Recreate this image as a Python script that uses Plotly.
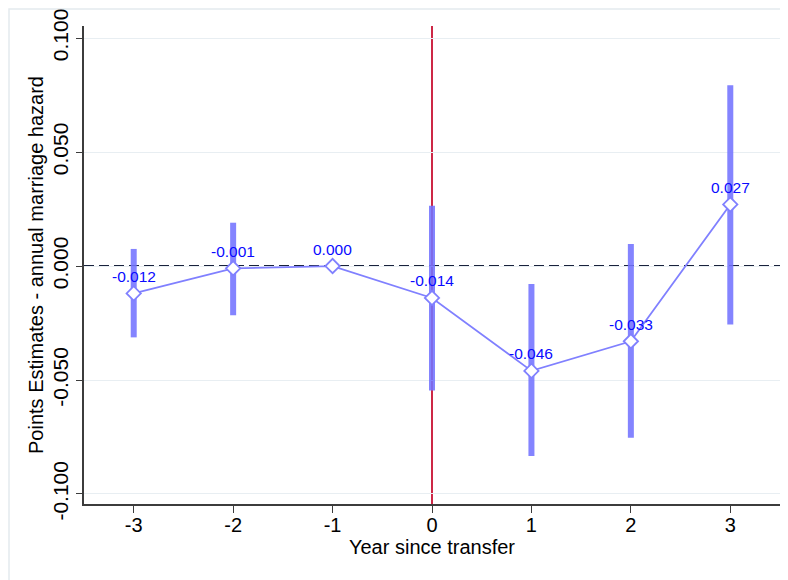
import plotly.graph_objects as go

years = [-3, -2, -1, 0, 1, 2, 3]
estimates = [-0.012, -0.001, 0.000, -0.014, -0.046, -0.033, 0.027]
ci_low = [-0.0313, -0.0216, None, -0.0546, -0.0833, -0.0753, -0.0256]
ci_high = [0.0075, 0.0190, None, 0.0264, -0.0079, 0.0097, 0.0793]
labels = ["-0.012", "-0.001", "0.000", "-0.014", "-0.046", "-0.033", "0.027"]
y_ticks = [-0.1, -0.05, 0.0, 0.05, 0.1]
y_ticktext = ["-0.100", "-0.050", "0.000", "0.050", "0.100"]

BLUE = "rgba(115,115,255,0.88)"
FONT = "Liberation Sans, Arial, sans-serif"

# page body has an 8px margin, so compensate in the figure margins
L, R, T, B = 76, 16, 18, 84
PW, PH = 788 - L - R, 580 - T - B

fig = go.Figure()

# confidence interval bars
for x, lo, hi in zip(years, ci_low, ci_high):
    if lo is None:
        continue
    fig.add_trace(go.Scatter(x=[x, x], y=[lo, hi], mode="lines",
                             line=dict(color=BLUE, width=6),
                             showlegend=False, hoverinfo="skip"))

# point estimates
fig.add_trace(go.Scatter(x=years, y=estimates, mode="lines+markers",
                         line=dict(color="rgb(128,128,255)", width=1.8),
                         marker=dict(symbol="diamond", size=11, color="white",
                                     line=dict(color="rgb(128,128,255)", width=1.8)),
                         showlegend=False))

for x, y, t in zip(years, estimates, labels):
    fig.add_annotation(x=x, y=y, text=t, showarrow=False, yshift=17,
                       font=dict(family=FONT, size=15.5, color="rgb(10,10,255)"))

# zero line and event line
fig.add_shape(type="line", xref="paper", x0=0, x1=1, yref="y", y0=0, y1=0,
              line=dict(color="rgb(25,34,60)", width=2, dash="10px,5px"), layer="below")
fig.add_shape(type="line", xref="x", x0=0, x1=0, yref="paper", y0=0, y1=1,
              line=dict(color="rgb(200,16,50)", width=1.8), layer="below")

# outer faint frame
fig.add_shape(type="rect", xref="paper", yref="paper",
              x0=(1 - L) / PW, x1=(788 - L - 1) / PW, y0=-(B - 1) / PH, y1=1 + (T - 1) / PH,
              line=dict(color="rgb(228,234,238)", width=1.5), layer="below")

fig.update_layout(
    width=788, height=580,
    margin=dict(l=L, r=R, t=T, b=B),
    paper_bgcolor="white", plot_bgcolor="white",
    font=dict(family=FONT, size=20, color="black"),
    xaxis=dict(range=[-3.5, 3.5], tickvals=years, ticktext=[str(v) for v in years],
               showgrid=False, zeroline=False, showline=True, linecolor="rgb(60,60,60)",
               linewidth=1.5, ticks="outside", ticklen=7, tickcolor="rgb(60,60,60)",
               tickfont=dict(size=20), automargin=False, ticklabelstandoff=-5,
               title=dict(text="Year since transfer", font=dict(size=20), standoff=0)),
    yaxis=dict(range=[-0.1044, 0.1053], tickvals=y_ticks, ticktext=y_ticktext,
               showgrid=True, gridcolor="rgb(232,238,242)", gridwidth=1,
               zeroline=False, showline=True, linecolor="rgb(60,60,60)", linewidth=1.5,
               ticks="outside", ticklen=6, tickcolor="rgb(60,60,60)", tickangle=-90,
               tickfont=dict(size=21), automargin=False,
               title=dict(text="Points Estimates - annual marriage hazard",
                          font=dict(size=20), standoff=0)),
)

fig.write_html("out.html")
